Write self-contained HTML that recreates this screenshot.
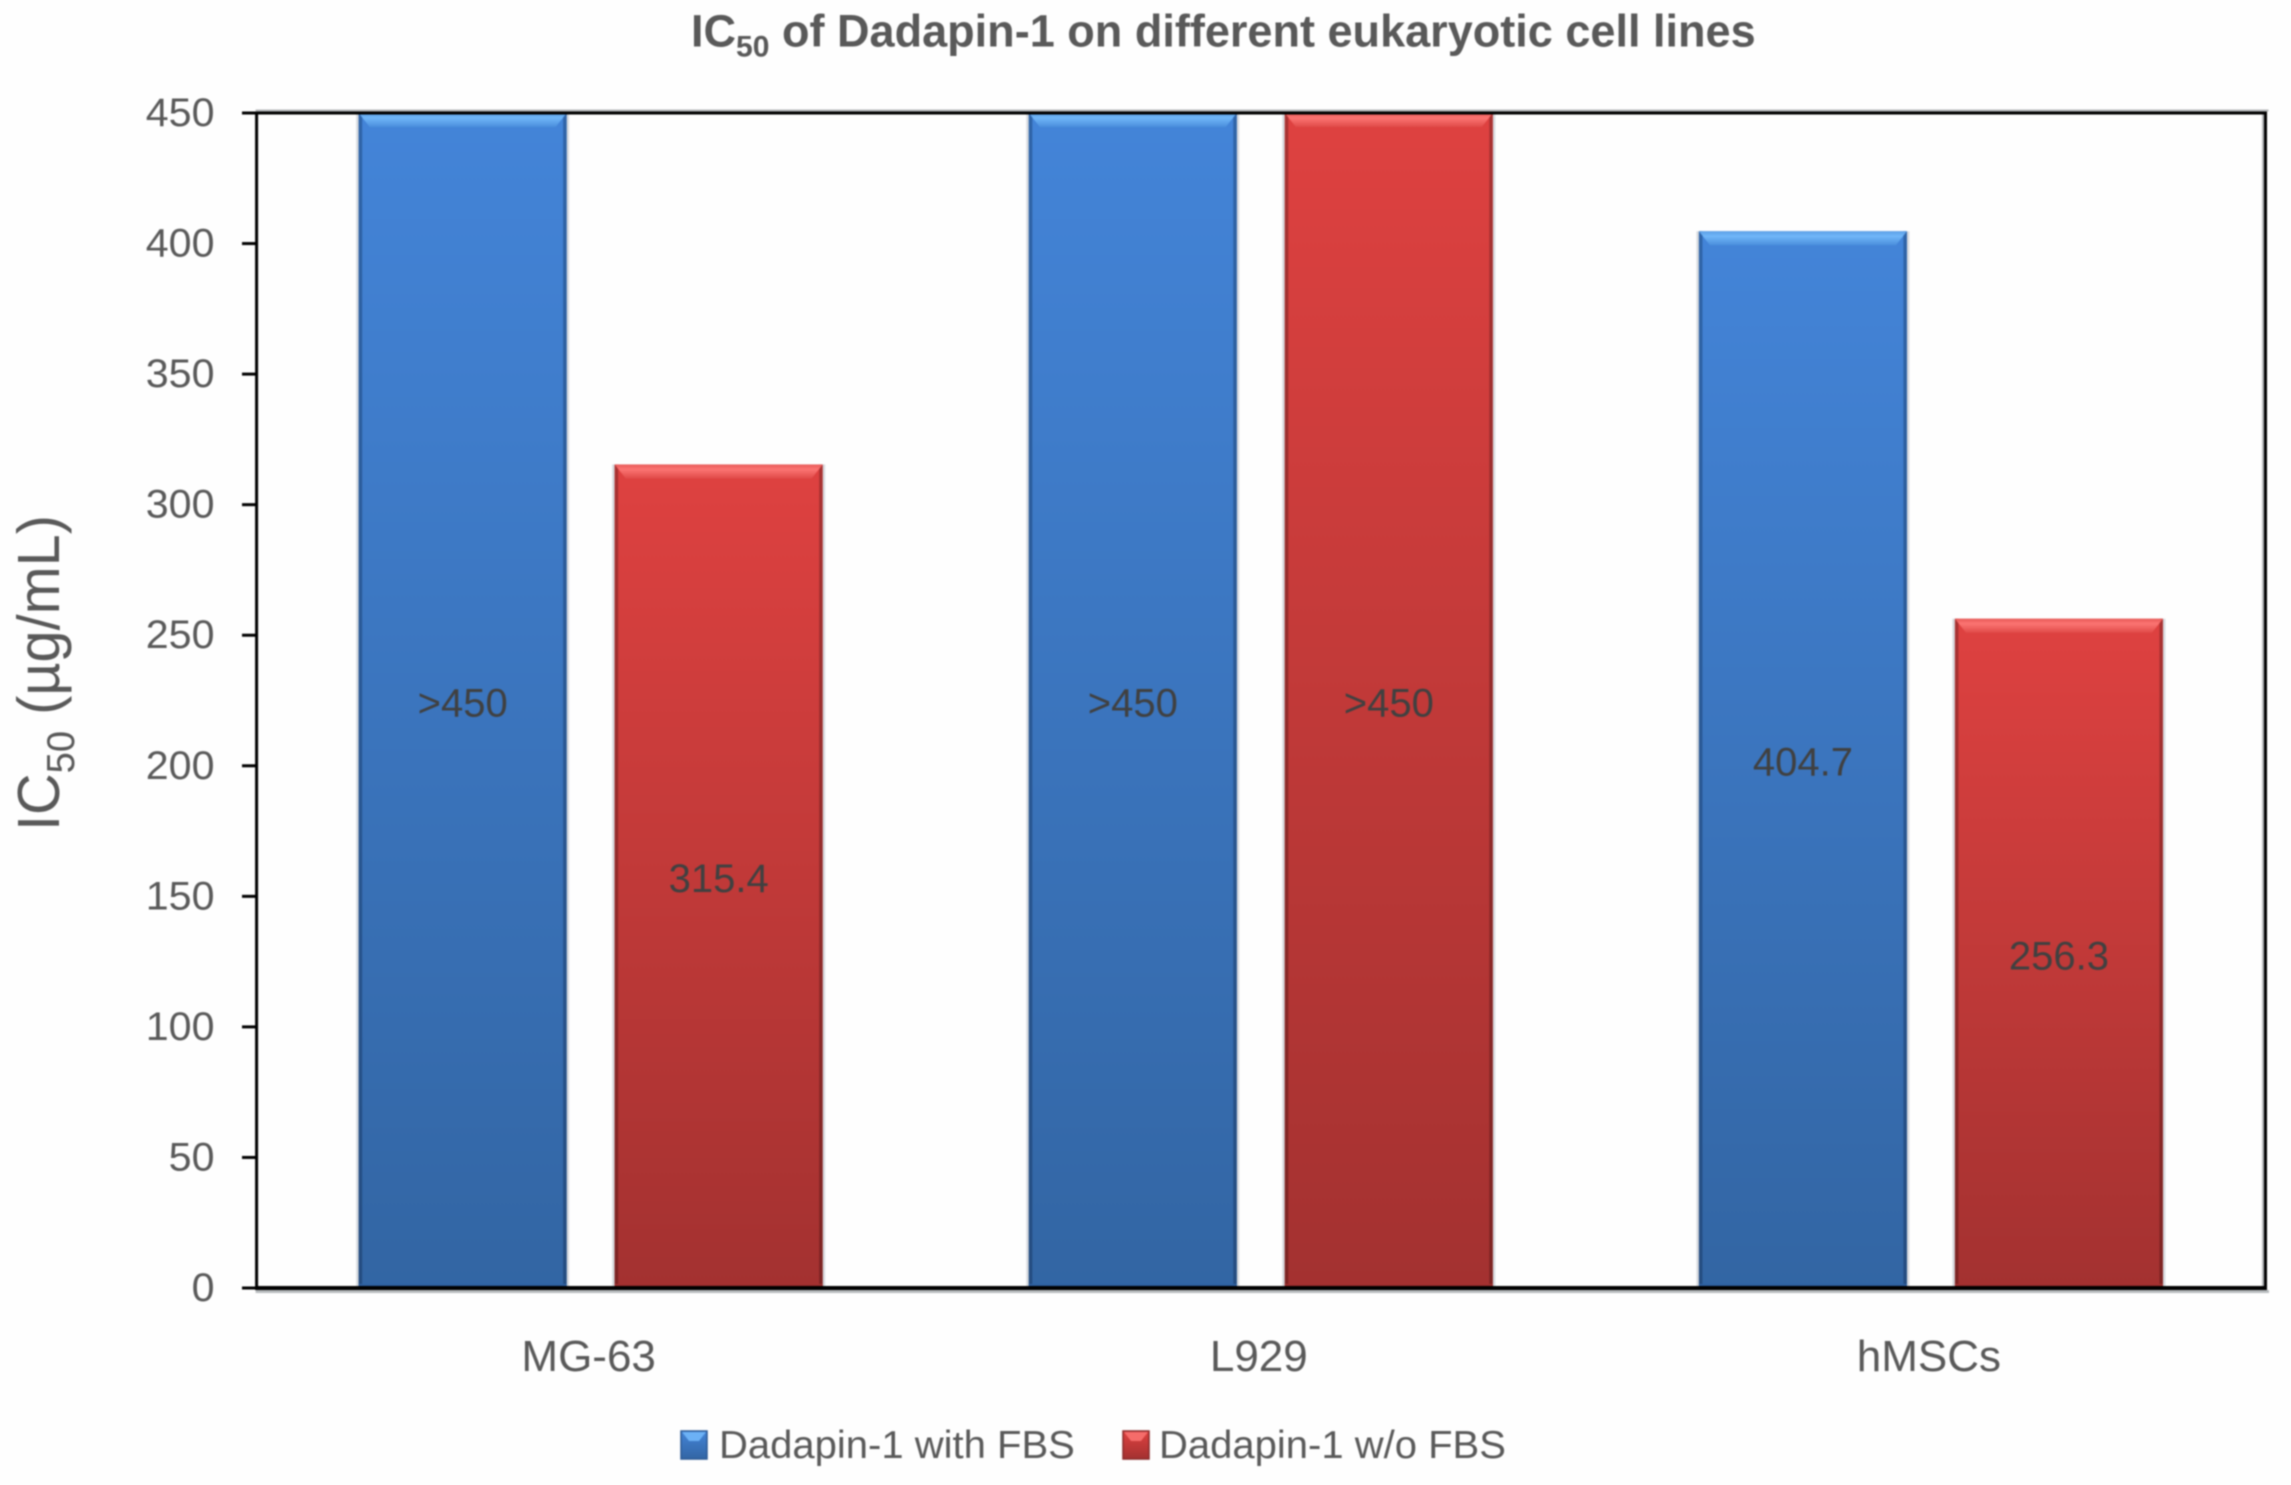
<!DOCTYPE html>
<html lang="en">
<head>
<meta charset="utf-8">
<title>IC50 of Dadapin-1 on different eukaryotic cell lines</title>
<style>
  html, body { margin: 0; padding: 0; background: #fefefe; }
  body { width: 2291px; height: 1485px; overflow: hidden; }
  #chart { display: block; filter: blur(0.9px); font-family: "Liberation Sans", sans-serif; }
</style>
</head>
<body>
<svg id="chart" xmlns="http://www.w3.org/2000/svg" width="2291" height="1485" viewBox="0 0 2291 1485">
  <defs>
    <linearGradient id="blueFill" x1="0" y1="0" x2="0" y2="1">
      <stop offset="0" stop-color="#4384d8"/>
      <stop offset="1" stop-color="#3265a3"/>
    </linearGradient>
    <linearGradient id="redFill" x1="0" y1="0" x2="0" y2="1">
      <stop offset="0" stop-color="#de4140"/>
      <stop offset="1" stop-color="#a33130"/>
    </linearGradient>
    <linearGradient id="blueBevel" x1="0" y1="0" x2="0" y2="1">
      <stop offset="0" stop-color="#5c9fe6"/>
      <stop offset="0.35" stop-color="#70b6f8"/>
      <stop offset="1" stop-color="#4a8edc"/>
    </linearGradient>
    <linearGradient id="redBevel" x1="0" y1="0" x2="0" y2="1">
      <stop offset="0" stop-color="#e85a58"/>
      <stop offset="0.35" stop-color="#fb7472"/>
      <stop offset="1" stop-color="#e04a48"/>
    </linearGradient>
    <linearGradient id="blueEdge" x1="0" y1="0" x2="0" y2="1">
      <stop offset="0" stop-color="#2f64a8"/>
      <stop offset="1" stop-color="#244c80"/>
    </linearGradient>
    <linearGradient id="redEdge" x1="0" y1="0" x2="0" y2="1">
      <stop offset="0" stop-color="#a93232"/>
      <stop offset="1" stop-color="#7c2322"/>
    </linearGradient>
  </defs>

  <rect x="0" y="0" width="2291" height="1485" fill="#fefefe"/>

  <text id="chart-title" font-size="45" font-weight="700" fill="#595959">IC<tspan font-size="30" dy="10">50</tspan><tspan dy="-10"> of Dadapin-1 on different eukaryotic cell lines</tspan></text>

  <text id="y-axis-title" font-size="59" fill="#595959">IC<tspan font-size="39" dy="15">50</tspan><tspan dy="-15"> (µg/mL)</tspan></text>

  <g id="plot"></g>

  <g>
    <g>
      <rect x="681" y="1431" width="26" height="28" fill="url(#blueFill)" stroke="#2c5a96" stroke-width="1.5"/>
      <polygon points="682,1432 706,1432 699,1441 689,1441" fill="#6cb1f5"/>
      <text id="legend-text-a" font-size="39" fill="#595959">Dadapin-1 with FBS</text>
    </g>
    <g>
      <rect x="1123" y="1431" width="26" height="28" fill="url(#redFill)" stroke="#8a2a2a" stroke-width="1.5"/>
      <polygon points="1124,1432 1148,1432 1141,1441 1131,1441" fill="#f56c6a"/>
      <text id="legend-text-b" font-size="39" fill="#595959">Dadapin-1 w/o FBS</text>
    </g>
  </g>
</svg>

<script>
// ---- chart data ----
const categories = ['MG-63', 'L929', 'hMSCs'];
const withFbsValues = [450, 450, 404.7];
const withoutFbsValues = [315.4, 450, 256.3];
const withFbsLabels = ['>450', '>450', '404.7'];
const withoutFbsLabels = ['315.4', '>450', '256.3'];
const yTickLabels = [0, 50, 100, 150, 200, 250, 300, 350, 400, 450];

const SVG_NS = 'http://www.w3.org/2000/svg';
const plot = document.getElementById('plot');

const plotLeft = 256.6, plotRight = 2267, plotTop = 113, plotBottom = 1288;
const yMax = 450;
const barWidth = 208, barGap = 48;

function yScale(v) { return plotBottom - (v / yMax) * (plotBottom - plotTop); }
function bandCenter(i) { return plotLeft + (i + 0.5) * (plotRight - plotLeft) / categories.length; }

function svgEl(tag, attrs, parent, name) {
  const el = document.createElementNS(SVG_NS, tag);
  for (const k in attrs) el.setAttribute(k, attrs[k]);
  
  
  (parent || plot).appendChild(el);
  return el;
}

function fitText(id, x, y, width, rotate) {
  const el = document.getElementById(id);
  const natural = el.getComputedTextLength();
  const sx = natural > 0 ? width / natural : 1;
  el.setAttribute('transform', 'translate(' + x + ',' + y + ')' + (rotate ? ' rotate(' + rotate + ')' : '') + ' scale(' + sx + ',1)');
}

fitText('chart-title', 691, 46.7, 1065);
fitText('y-axis-title', 59, 831, 316, -90);
fitText('legend-text-a', 719, 1458, 356);
fitText('legend-text-b', 1159, 1458, 347);

function drawBar(i, value, label, side, seriesKey) {
  const cx = bandCenter(i) - 1;
  const x = side < 0 ? cx - barGap / 2 - barWidth : cx + barGap / 2;
  const top = yScale(value);
  const bottom = yScale(0);
  const h = bottom - top;
  const key = seriesKey === 'with-fbs' ? 'blue' : 'red';
  const g = svgEl('g', {}, plot, 'bar-' + categories[i].toLowerCase() + '-' + seriesKey);

  svgEl('rect', { x: x - 2.5, y: top, width: barWidth + 5, height: h, fill: '#d8dbdf' }, g, 'bar-outer-shadow');
  svgEl('rect', { x: x, y: top, width: barWidth, height: h, fill: 'url(#' + key + 'Fill)' }, g, 'bar-body');
  svgEl('rect', { x: x, y: top, width: 3.5, height: h, fill: 'url(#' + key + 'Edge)' }, g, 'bar-left-edge');
  svgEl('rect', { x: x + barWidth - 3.5, y: top, width: 3.5, height: h, fill: 'url(#' + key + 'Edge)' }, g, 'bar-right-edge');
  svgEl('rect', { x: x, y: bottom - 4, width: barWidth, height: 4, fill: 'url(#' + key + 'Edge)' }, g, 'bar-bottom-edge');
  svgEl('polygon', {
    points: x + ',' + top + ' ' + (x + barWidth) + ',' + top + ' ' + (x + barWidth - 11) + ',' + (top + 14) + ' ' + (x + 11) + ',' + (top + 14),
    fill: 'url(#' + key + 'Bevel)'
  }, g, 'bar-top-bevel');

  const t = svgEl('text', {
    x: x + barWidth / 2,
    y: (top + bottom) / 2 + 16,
    'text-anchor': 'middle',
    'font-size': 40,
    fill: '#404040'
  }, g, 'bar-value-label');
  t.textContent = label;
}

categories.forEach(function (c, i) {
  drawBar(i, withFbsValues[i], withFbsLabels[i], -1, 'with-fbs');
  drawBar(i, withoutFbsValues[i], withoutFbsLabels[i], 1, 'without-fbs');
});

// frame
svgEl('rect', { x: plotLeft - 1, y: plotTop - 3.5, width: plotRight - plotLeft + 2.5, height: 2, fill: '#b4b6b8' }, plot, 'plot-top-shadow');
svgEl('rect', { x: plotLeft - 1, y: plotBottom + 2, width: plotRight - plotLeft + 3, height: 3, fill: '#b6babd' }, plot, 'plot-bottom-shadow');
svgEl('rect', { x: plotRight - 5, y: plotTop, width: 2, height: plotBottom - plotTop, fill: '#b4b6b8' }, plot, 'plot-right-shadow');
svgEl('line', { x1: plotLeft, y1: plotTop, x2: plotRight, y2: plotTop, stroke: '#000', 'stroke-width': 3 }, plot, 'plot-top-border');
svgEl('line', { x1: plotRight - 1.5, y1: plotTop - 1.5, x2: plotRight - 1.5, y2: plotBottom + 2, stroke: '#000', 'stroke-width': 3 }, plot, 'plot-right-border');
svgEl('line', { x1: plotLeft, y1: plotTop - 1.5, x2: plotLeft, y2: plotBottom + 2, stroke: '#000', 'stroke-width': 3 }, plot, 'y-axis-line');
svgEl('line', { x1: plotLeft, y1: plotBottom, x2: plotRight, y2: plotBottom, stroke: '#000', 'stroke-width': 4 }, plot, 'x-axis-line');

// y ticks
yTickLabels.forEach(function (v) {
  const y = yScale(v);
  svgEl('line', { x1: 242, y1: y, x2: plotLeft, y2: y, stroke: '#000', 'stroke-width': 3 }, plot, 'y-tick-mark-' + v);
  const t = svgEl('text', {
    transform: 'translate(214.5,' + (y + 13) + ') scale(1.03,1)',
    'text-anchor': 'end',
    'font-size': 40,
    fill: '#595959'
  }, plot, 'y-tick-label-' + v);
  t.textContent = v;
});

// category labels
categories.forEach(function (c, i) {
  const t = svgEl('text', {
    x: bandCenter(i) - 3,
    y: 1371,
    'text-anchor': 'middle',
    'font-size': 44,
    fill: '#595959'
  }, plot, 'x-category-label-' + c.toLowerCase());
  t.textContent = c;
});
</script>
</body>
</html>
